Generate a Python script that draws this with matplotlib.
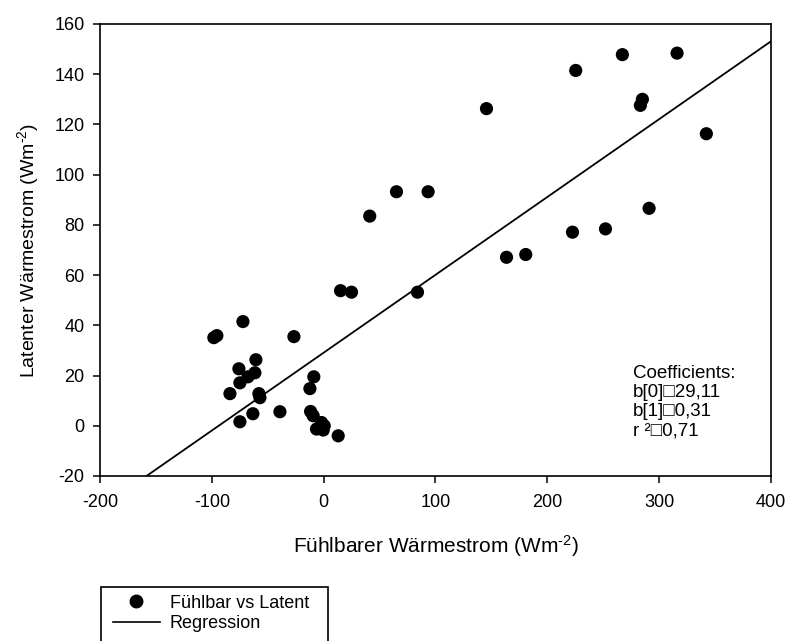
import matplotlib
matplotlib.use("Agg")
import matplotlib.pyplot as plt
from matplotlib.lines import Line2D
from matplotlib.patches import Rectangle

plt.rcParams['font.family'] = ['Liberation Sans', 'DejaVu Sans']
plt.rcParams['axes.unicode_minus'] = False
plt.rcParams['mathtext.fontset'] = 'custom'
plt.rcParams['mathtext.rm'] = 'Liberation Sans'
plt.rcParams['mathtext.it'] = 'Liberation Sans'
plt.rcParams['mathtext.bf'] = 'Liberation Sans'

# Data (sensible vs latent heat flux, W m-2)
fuehlbar = [-98.2, -95.5, -72.2, -26.6, -60.6, -75.8, -61.5, -67.7, -74.9, -83.8,
            -57.9, -57.0, -8.8, -12.3, -39.1, -63.3, -74.9, -11.7, -9.4, -1.9,
            -6.4, -0.4, 13.0, 0.5,
            15.1, 24.9, 41.2, 83.9, 65.1, 93.4, 145.6, 225.4, 267.1, 316.0,
            285.0, 283.2, 342.2, 291.0, 222.5, 252.0, 163.5, 180.7]
latent = [35.1, 35.9, 41.5, 35.5, 26.3, 22.7, 21.1, 19.5, 17.1, 12.8,
          12.8, 11.2, 19.5, 14.8, 5.6, 4.8, 1.6, 5.7, 4.0, 1.3,
          -1.3, -1.7, -4.0, 0.0,
          53.8, 53.2, 83.5, 53.2, 93.2, 93.2, 126.3, 141.5, 147.8, 148.4,
          130.0, 127.6, 116.3, 86.6, 77.1, 78.4, 67.1, 68.2]

b0 = 29.11
b1 = 0.31
r2 = 0.71
reg_x = [-200, 400]

xticks = [-200, -100, 0, 100, 200, 300, 400]
yticks = [-20, 0, 20, 40, 60, 80, 100, 120, 140, 160]

W, H = 788, 641
fig = plt.figure(figsize=(W / 100, H / 100), dpi=100)
ax = fig.add_axes([100 / W, 1 - 476 / H, 671 / W, 452 / H])

ax.scatter(fuehlbar, latent, s=90, color='black', edgecolors='none', zorder=3)
reg_y = [b0 + b1 * x for x in reg_x]
ax.plot(reg_x, reg_y, color='black', lw=1.3, zorder=2)

ax.set_xlim(-200, 400)
ax.set_ylim(-20, 160)
ax.set_xticks(xticks)
ax.set_yticks(yticks)
ax.tick_params(direction='out', length=5, width=1.1, labelsize=13, colors='black')
ax.tick_params(axis='x', pad=8)
ax.tick_params(axis='y', pad=6)
for s in ax.spines.values():
    s.set_linewidth(1.2)

ax.set_xlabel(r'Fühlbarer Wärmestrom (Wm$^{\text{-}2}$)', fontsize=15, labelpad=16)
ax.set_ylabel(r'Latenter Wärmestrom (Wm$^{\text{-}2}$)', fontsize=14, labelpad=10)

coef_lines = ['Coefficients:', 'b[0]\u25a129,11', 'b[1]\u25a10,31', 'r \u00b2\u25a10,71']
for i, t in enumerate(coef_lines):
    fig.text(633 / W, 1 - (378 + 19 * i) / H, t, fontsize=13.5, va='baseline', ha='left')

# Legend
handles = [Line2D([], [], marker='o', ls='none', color='black', markersize=9),
           Line2D([], [], color='black', lw=1.2)]
leg = fig.legend(handles, ['Fühlbar vs Latent', 'Regression'], loc='upper left',
                 bbox_to_anchor=(100 / W, 1 - 582 / H), frameon=False, fontsize=13,
                 handlelength=2.6, handletextpad=0.55, labelspacing=0.2, borderpad=0.2)
fig.add_artist(Rectangle((101 / W, -0.05), 227 / W, (1 - 587 / H) + 0.05,
                         transform=fig.transFigure, fill=False, edgecolor='black', lw=1.2))

fig.savefig('out.png', dpi=100)
